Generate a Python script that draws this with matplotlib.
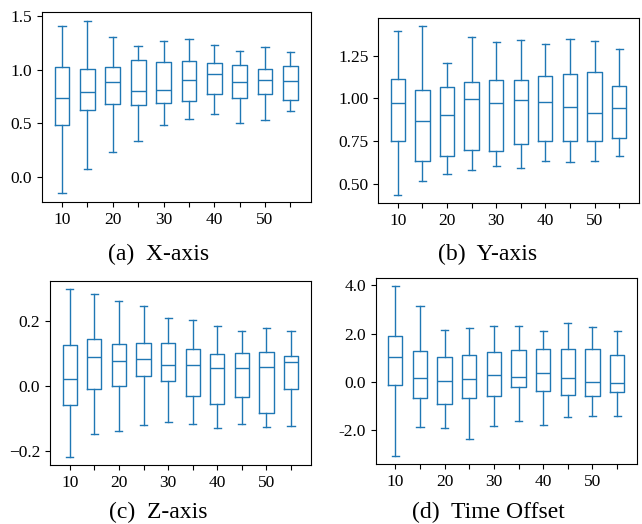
import numpy as np
import matplotlib
matplotlib.use('Agg')
from matplotlib import pyplot as plt
from matplotlib.ticker import MultipleLocator, FormatStrFormatter

plt.rcParams['font.family'] = ['Liberation Serif', 'DejaVu Serif']

positions = [10, 15, 20, 25, 30, 35, 40, 45, 50, 55]
tick_labels = ['10', '', '20', '', '30', '', '40', '', '50', '']

# (a) X-axis: whisker low, Q1, median, Q3, whisker high
x_low = [-0.152, 0.078, 0.229, 0.332, 0.484, 0.542, 0.589, 0.502, 0.533, 0.614]
x_q1 = [0.487, 0.623, 0.682, 0.670, 0.691, 0.710, 0.775, 0.738, 0.775, 0.719]
x_med = [0.741, 0.797, 0.890, 0.806, 0.815, 0.905, 0.961, 0.890, 0.905, 0.899]
x_q3 = [1.026, 1.007, 1.029, 1.094, 1.072, 1.079, 1.066, 1.044, 1.010, 1.035]
x_high = [1.407, 1.457, 1.305, 1.224, 1.271, 1.283, 1.230, 1.175, 1.212, 1.166]

# (b) Y-axis
y_low = [0.436, 0.518, 0.561, 0.584, 0.607, 0.592, 0.637, 0.627, 0.635, 0.664]
y_q1 = [0.752, 0.637, 0.664, 0.699, 0.693, 0.734, 0.752, 0.750, 0.750, 0.770]
y_med = [0.973, 0.867, 0.902, 0.998, 0.973, 0.992, 0.979, 0.949, 0.916, 0.945]
y_q3 = [1.115, 1.049, 1.066, 1.096, 1.109, 1.105, 1.131, 1.141, 1.156, 1.074]
y_high = [1.393, 1.422, 1.209, 1.361, 1.330, 1.342, 1.318, 1.348, 1.334, 1.287]

# (c) Z-axis
z_low = [-0.216, -0.146, -0.136, -0.120, -0.110, -0.117, -0.127, -0.117, -0.124, -0.121]
z_q1 = [-0.057, -0.008, 0.002, 0.031, 0.017, -0.031, -0.056, -0.032, -0.081, -0.010]
z_med = [0.022, 0.091, 0.077, 0.085, 0.064, 0.065, 0.055, 0.055, 0.058, 0.073]
z_q3 = [0.126, 0.146, 0.131, 0.133, 0.134, 0.114, 0.098, 0.101, 0.105, 0.094]
z_high = [0.297, 0.283, 0.261, 0.246, 0.209, 0.204, 0.185, 0.168, 0.179, 0.170]

# (d) Time Offset
t_low = [-3.05, -1.87, -1.88, -2.34, -1.81, -1.61, -1.79, -1.44, -1.42, -1.42]
t_q1 = [-0.14, -0.66, -0.92, -0.66, -0.59, -0.21, -0.36, -0.52, -0.58, -0.43]
t_med = [1.03, 0.15, 0.06, 0.11, 0.28, 0.23, 0.36, 0.19, 0.01, -0.04]
t_q3 = [1.90, 1.27, 1.05, 1.13, 1.25, 1.33, 1.39, 1.39, 1.36, 1.13]
t_high = [3.97, 3.13, 2.14, 2.23, 2.32, 2.32, 2.12, 2.43, 2.30, 2.13]

color = '#1f77b4'


def make_stats(low, q1, med, q3, high):
    return [dict(whislo=a, q1=b, med=c, q3=d, whishi=e, fliers=[])
            for a, b, c, d, e in zip(low, q1, med, q3, high)]


def draw(ax, stats, step, fmt=None):
    ax.bxp(stats, positions=positions, widths=2.9, showfliers=False,
           boxprops=dict(color=color), whiskerprops=dict(color=color),
           capprops=dict(color=color), medianprops=dict(color=color))
    ax.set_xticks(positions)
    ax.set_xticklabels(tick_labels)
    ax.set_xlim(positions[0] - 4, positions[-1] + 4)
    ax.yaxis.set_major_locator(MultipleLocator(step))
    if fmt:
        ax.yaxis.set_major_formatter(FormatStrFormatter(fmt))
    ax.tick_params(labelsize=12.5)


fig = plt.figure(figsize=(6.42, 5.24), dpi=100)
ax1 = fig.add_axes([0.065, 0.6145, 0.419, 0.3625])
ax2 = fig.add_axes([0.589, 0.612, 0.406, 0.354])
ax3 = fig.add_axes([0.078, 0.1126, 0.406, 0.351])
ax4 = fig.add_axes([0.585, 0.114, 0.407, 0.356])

draw(ax1, make_stats(x_low, x_q1, x_med, x_q3, x_high), 0.5)
draw(ax2, make_stats(y_low, y_q1, y_med, y_q3, y_high), 0.25)
draw(ax3, make_stats(z_low, z_q1, z_med, z_q3, z_high), 0.2)
draw(ax4, make_stats(t_low, t_q1, t_med, t_q3, t_high), 2.0, '%.1f')

# subfigure captions
fig.text(0.247, 0.515, '(a)  X-axis', fontsize=17, ha='center', va='center')
fig.text(0.760, 0.515, '(b)  Y-axis', fontsize=17, ha='center', va='center')
fig.text(0.247, 0.022, '(c)  Z-axis', fontsize=17, ha='center', va='center')
fig.text(0.760, 0.022, '(d)  Time Offset', fontsize=17, ha='center', va='center')

fig.savefig('out.png', dpi=100)
